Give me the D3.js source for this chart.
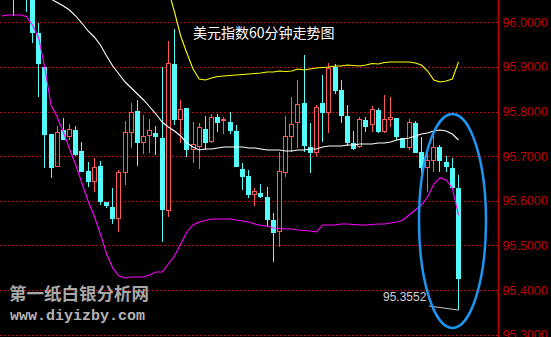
<!DOCTYPE html>
<html><head><meta charset="utf-8">
<script src="https://cdn.jsdelivr.net/npm/d3@7/dist/d3.min.js"></script>
<style>html,body{margin:0;padding:0;background:#000;overflow:hidden}svg{display:block}</style>
</head><body>
<script>
const title = "美元指数60分钟走势图";
const watermark1 = "第一纸白银分析网";
const watermark2 = "www.diyizby.com";
const tickValues = [96.0, 95.9, 95.8, 95.7, 95.6, 95.5, 95.4, 95.3];
const tickLabels = ["96.0000","95.9000","95.8000","95.7000","95.6000","95.5000","95.4000","95.3000"];
const bars = d3.range(-5, 70);
const open = [96.11,96.09,96.10,96.07,96.08,96.06,95.976,95.8998,95.7497,95.6758,95.7587,95.743,95.7587,95.7117,95.6669,95.6422,95.6781,95.5974,95.5862,95.5593,95.6624,95.752,95.8013,95.7296,95.7453,95.752,95.7408,95.5772,95.9066,95.7811,95.808,95.7139,95.7206,95.7609,95.7318,95.7878,95.7789,95.7766,95.7565,95.6713,95.6557,95.6131,95.6176,95.6086,95.557,95.5302,95.6624,95.743,95.7766,95.8192,95.7206,95.7072,95.8192,95.7968,95.8998,95.8483,95.7901,95.7296,95.7206,95.7811,95.7699,95.8035,95.7542,95.7833,95.7856,95.7408,95.7184,95.7744,95.7094,95.6736,95.6893,95.7206,95.687,95.6736,95.6288];
const high = [96.14,96.12,96.12,96.10,96.09,96.07,95.9984,95.9010,95.7497,95.7677,95.7856,95.7721,95.7677,95.7318,95.6870,95.6960,95.6893,95.5974,95.6288,95.6691,95.7789,95.8192,95.8259,95.7923,95.7833,95.7677,95.8998,95.9581,95.9850,95.8259,95.8080,95.7766,95.7744,95.7901,95.7945,95.7945,95.7878,95.7990,95.7699,95.6848,95.6691,95.6288,95.6377,95.6310,95.5727,95.7094,95.7901,95.8326,95.8707,95.9267,95.7744,95.8147,95.8819,95.9088,95.9066,95.8707,95.8147,95.7565,95.7878,95.7878,95.8125,95.8080,95.8371,95.8326,95.7856,95.7408,95.7833,95.7789,95.7430,95.7139,95.7520,95.7251,95.7005,95.6960,95.6579];
const low = [96.08,96.06,96.0141,96.055,96.0231,95.9536,95.8326,95.6736,95.6512,95.6758,95.7363,95.7363,95.7000,95.6646,95.6310,95.6198,95.5910,95.5840,95.5481,95.5302,95.6355,95.7184,95.6781,95.7049,95.7072,95.7027,95.5078,95.5638,95.7699,95.7296,95.6982,95.6848,95.6713,95.7139,95.7300,95.7542,95.7497,95.7497,95.6758,95.6243,95.6064,95.5884,95.6064,95.5414,95.4629,95.4966,95.6534,95.7094,95.7184,95.7094,95.6624,95.7005,95.7318,95.7520,95.8393,95.7744,95.7229,95.7139,95.7184,95.7542,95.7542,95.7520,95.7520,95.7654,95.7363,95.7184,95.7139,95.7072,95.6624,95.6198,95.6646,95.6646,95.6646,95.6288,95.3552];
const close = [96.09,96.10,96.07,96.08,96.06,95.976,95.9066,95.7475,95.6736,95.7520,95.7363,95.7609,95.7027,95.6646,95.6422,95.6736,95.5974,95.5884,95.5593,95.6624,95.7520,95.7990,95.7296,95.7430,95.7565,95.7430,95.5795,95.9088,95.7811,95.8057,95.7139,95.7251,95.7632,95.7296,95.7878,95.7744,95.7811,95.7565,95.6758,95.6534,95.6131,95.6198,95.6086,95.5570,95.5279,95.6646,95.7430,95.7721,95.8169,95.7229,95.7072,95.8102,95.7968,95.8954,95.8461,95.7901,95.7296,95.7161,95.7833,95.7654,95.8057,95.7542,95.7833,95.7878,95.7430,95.7184,95.7766,95.7072,95.6736,95.6893,95.7184,95.6893,95.6758,95.6288,95.4248];
const bollMid = [96.1261,96.1172,96.1082,96.0993,96.0903,96.0813,96.0724,96.0612,96.0522,96.0444,96.0365,96.0276,96.0141,95.9984,95.9805,95.9671,95.9491,95.9245,95.9021,95.8842,95.8662,95.8528,95.8393,95.8259,95.8102,95.7945,95.7766,95.7654,95.7565,95.7453,95.7296,95.7206,95.7139,95.7161,95.7161,95.7184,95.7206,95.7206,95.7206,95.7206,95.7184,95.7184,95.7161,95.7139,95.7139,95.7139,95.7117,95.7117,95.7139,95.7139,95.7161,95.7161,95.7206,95.7229,95.7229,95.7229,95.7251,95.7251,95.7273,95.7273,95.7273,95.7296,95.7296,95.7318,95.7363,95.7385,95.7408,95.7453,95.7497,95.7520,95.7565,95.7587,95.7565,95.7497,95.7363];
const bollUp = [96.2382,96.2180,96.2001,96.1822,96.1676,96.1687,96.1799,96.2247,96.2897,96.3009,96.3188,96.3390,96.3479,96.3569,96.3614,96.3681,96.3726,96.3681,96.3547,96.3367,96.3054,96.2763,96.2494,96.2225,96.1867,96.1486,96.1127,96.0724,96.0231,95.9693,95.9312,95.8954,95.8730,95.8707,95.8752,95.8786,95.8797,95.8808,95.8819,95.8830,95.8842,95.8853,95.8864,95.8886,95.8886,95.8909,95.8898,95.8909,95.8954,95.8931,95.8954,95.8976,95.8987,95.8998,95.9021,95.9021,95.9043,95.9032,95.9021,95.9043,95.9077,95.9066,95.9099,95.9110,95.9110,95.9110,95.9110,95.9088,95.9043,95.8909,95.8707,95.8662,95.8685,95.8730,95.9110];
const bollLow = [96.0141,96.0164,96.0164,96.0164,96.0130,95.9940,95.9648,95.8976,95.8147,95.7878,95.7542,95.7161,95.6803,95.6399,95.5996,95.5660,95.5257,95.4809,95.4495,95.4316,95.4271,95.4293,95.4293,95.4293,95.4338,95.4405,95.4405,95.4585,95.4764,95.5033,95.5302,95.5459,95.5526,95.5559,95.5593,95.5593,95.5593,95.5593,95.5570,95.5548,95.5526,95.5481,95.5447,95.5436,95.5391,95.5380,95.5369,95.5369,95.5346,95.5335,95.5324,95.5302,95.5458,95.5458,95.5458,95.5481,95.5481,95.5470,95.5458,95.5458,95.5470,95.5481,95.5481,95.5503,95.5526,95.5570,95.5682,95.5794,95.5906,95.6086,95.6377,95.6512,95.6467,95.6288,95.5682];

const W = 551, H = 337;
const svg = d3.select("body").append("svg").attr("width", W).attr("height", H)
  .style("background", "#000");

const axisX = 498;
const x = d3.scaleLinear().domain([0, 69]).range([32.5, 458.5]);
const y = d3.scaleLinear().domain([95.3, 96.0]).range([334.7, 22.3]);

svg.append("defs").append("clipPath").attr("id", "plot")
  .append("rect").attr("x", 0).attr("y", 0).attr("width", axisX).attr("height", H);

// grid
const grid = svg.append("g");
grid.selectAll("line").data(tickValues).join("line")
  .attr("x1", 0).attr("x2", axisX)
  .attr("y1", d => Math.round(y(d)) + 0.5).attr("y2", d => Math.round(y(d)) + 0.5)
  .attr("stroke", "#c80000").attr("stroke-width", 1.2).attr("stroke-dasharray", "2,2");

// right axis
const yAxis = d3.axisRight(y).tickValues(tickValues).tickFormat((d, i) => tickLabels[i]).tickSize(0).tickPadding(4);
const ag = svg.append("g").attr("transform", `translate(${axisX + 0.5},0)`).call(yAxis);
ag.select(".domain").attr("stroke", "#c00000").attr("stroke-width", 1.5).attr("d", `M0,0V${H}`);
ag.selectAll("text").attr("fill", "#c00000").attr("font-family", "Liberation Sans, Arial, sans-serif").attr("font-size", 12.5);

const plot = svg.append("g").attr("clip-path", "url(#plot)");

// candles
const cand = plot.append("g").attr("shape-rendering", "crispEdges");
bars.forEach((b, k) => {
  const o = open[k], h = high[k], l = low[k], c = close[k];
  const up = c >= o;
  const col = up ? "#ff5858" : "#54fcfc";
  const left = Math.round(x(b) - 2.5);
  const cx = left + 2.5;
  const top = y(Math.max(o, c)), bot = y(Math.min(o, c));
  if (up) {
    cand.append("line").attr("x1", cx).attr("x2", cx).attr("y1", y(h)).attr("y2", top).attr("stroke", col);
    cand.append("line").attr("x1", cx).attr("x2", cx).attr("y1", bot).attr("y2", y(l)).attr("stroke", col);
    cand.append("rect").attr("x", left + 0.5).attr("y", top).attr("width", 4)
      .attr("height", Math.max(1, bot - top)).attr("fill", "#000").attr("stroke", col);
  } else {
    cand.append("line").attr("x1", cx).attr("x2", cx).attr("y1", y(h)).attr("y2", y(l)).attr("stroke", col);
    cand.append("rect").attr("x", left).attr("y", top).attr("width", 5)
      .attr("height", Math.max(1, bot - top)).attr("fill", col);
  }
});

// bollinger lines
const line = arr => d3.line().x((d, i) => x(bars[i])).y(d => y(d))(arr);
const bl = plot.append("g");
bl.append("path").attr("d", line(bollUp)).attr("fill", "none").attr("stroke", "#ffff00").attr("stroke-width", 1.1);
bl.append("path").attr("d", line(bollMid)).attr("fill", "none").attr("stroke", "#ffffff").attr("stroke-width", 1.1);
bl.append("path").attr("d", line(bollLow)).attr("fill", "none").attr("stroke", "#ff00ff").attr("stroke-width", 1.1);

// title
svg.append("text").attr("x", 193).attr("y", 37.5).text(title)
  .attr("fill", "#ffffff").attr("font-family", "Noto Sans CJK SC, sans-serif").attr("font-size", 14);

// low annotation
const lastK = bars.length - 1;
const lowX = x(bars[lastK]), lowY = y(low[lastK]);
svg.append("line").attr("x1", 429).attr("y1", 306).attr("x2", lowX).attr("y2", lowY)
  .attr("stroke", "#c8c8c8").attr("stroke-width", 1);
svg.append("text").attr("x", 383).attr("y", 301).text(d3.format(".4f")(low[lastK]))
  .attr("fill", "#d0d0d8").attr("font-family", "Liberation Sans, Arial, sans-serif").attr("font-size", 12);

// watermark
svg.append("text").attr("x", 9).attr("y", 300).text(watermark1)
  .attr("fill", "#a8a8a8").attr("font-family", "Noto Sans CJK SC, sans-serif").attr("font-weight", 700).attr("font-size", 17.5);
svg.append("text").attr("x", 10).attr("y", 320).text(watermark2)
  .attr("fill", "#b4b4b4").attr("font-family", "Liberation Mono, monospace").attr("font-weight", 700).attr("font-size", 15);

// ellipse
svg.append("ellipse").attr("cx", 452.5).attr("cy", 221).attr("rx", 33.5).attr("ry", 107)
  .attr("fill", "none").attr("stroke", "#1e96f0").attr("stroke-width", 2.5);
</script>
</body></html>
